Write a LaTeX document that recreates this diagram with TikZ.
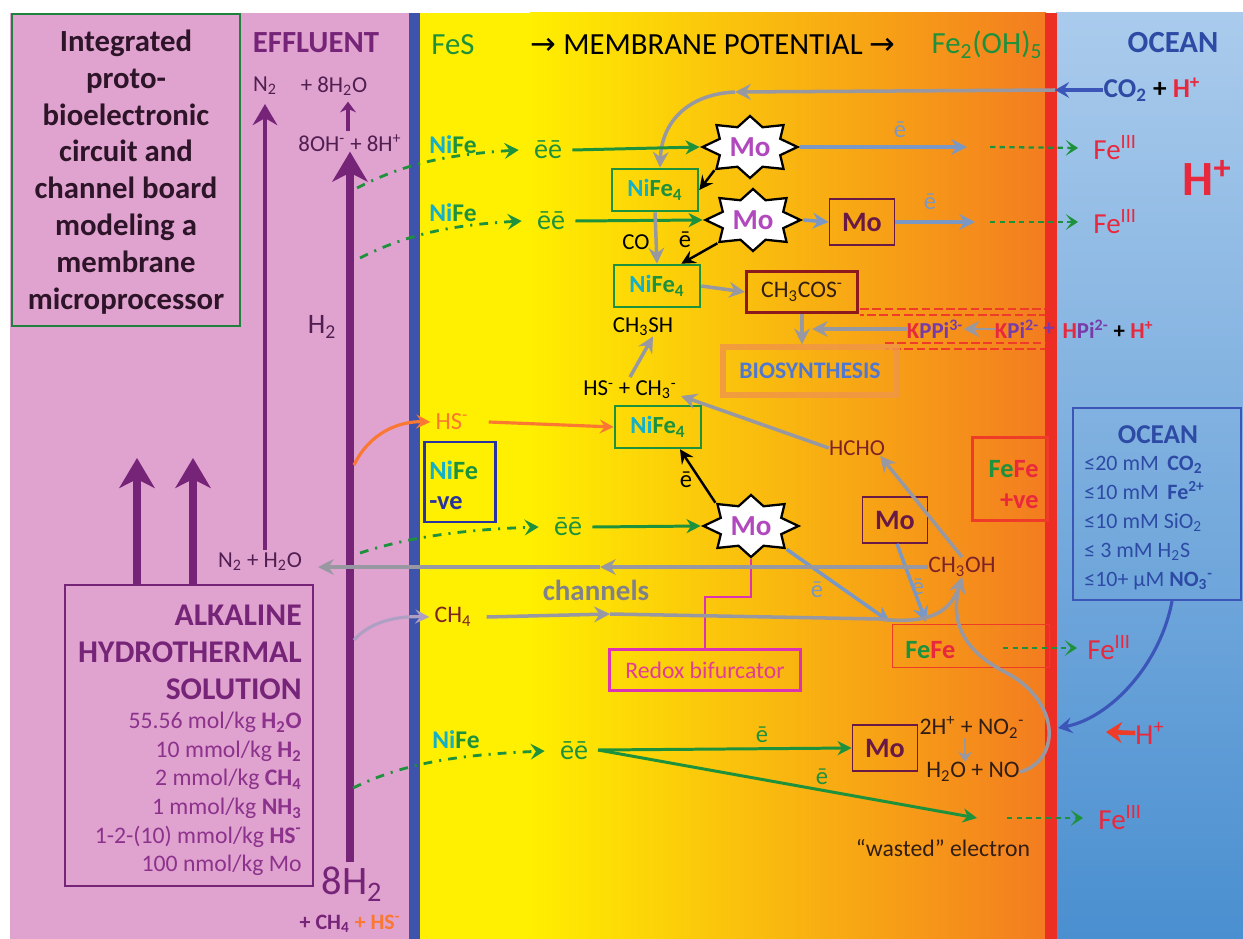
\documentclass[tikz,border=0pt]{standalone}
\usepackage{fontspec}
\setmainfont{Carlito}
\newfontfamily\arrowfont{DejaVu Sans}
\usetikzlibrary{arrows.meta,calc,shapes.geometric,positioning}

\definecolor{pinkbg}{RGB}{224,163,207}
\definecolor{yel}{RGB}{255,239,0}
\definecolor{orA}{RGB}{250,182,22}
\definecolor{orB}{RGB}{243,124,32}
\definecolor{oceanA}{RGB}{170,203,236}
\definecolor{oceanB}{RGB}{74,143,208}
\definecolor{membblue}{RGB}{62,84,172}
\definecolor{membred}{RGB}{236,46,36}
\definecolor{purp}{RGB}{118,36,120}
\definecolor{lightpurp}{RGB}{140,50,140}
\definecolor{darkpurp}{RGB}{80,30,80}
\definecolor{titlegrn}{RGB}{30,130,60}
\definecolor{titletxt}{RGB}{45,20,40}
\definecolor{fegreen}{RGB}{30,145,60}
\definecolor{nicyan}{RGB}{20,175,200}
\definecolor{arrgray}{RGB}{152,152,162}
\definecolor{arrblue}{RGB}{122,152,195}
\definecolor{mopink}{RGB}{178,72,190}
\definecolor{modark}{RGB}{105,25,70}
\definecolor{fered}{RGB}{232,40,60}
\definecolor{fered2}{RGB}{238,60,40}
\definecolor{ocblue}{RGB}{45,75,165}
\definecolor{ocblue2}{RGB}{60,85,185}
\definecolor{hsorange}{RGB}{250,120,50}
\definecolor{browntxt}{RGB}{125,35,40}
\definecolor{darktxt}{RGB}{50,30,20}
\definecolor{darkred}{RGB}{140,25,30}
\definecolor{bioorange}{RGB}{240,150,70}
\definecolor{bioblue}{RGB}{80,120,210}
\definecolor{pipurp}{RGB}{120,60,170}
\definecolor{magline}{RGB}{220,50,180}
\definecolor{magtxt}{RGB}{225,60,150}
\definecolor{negblue}{RGB}{40,50,160}
\definecolor{lilac}{RGB}{175,160,195}

\newcommand{\tsub}[1]{\textsubscript{#1}}
\newcommand{\tsup}[1]{\textsuperscript{#1}}
\newcommand{\fsz}[2]{\fontsize{#1}{#2}\selectfont}
\newcommand{\NiFe}{\textcolor{nicyan}{Ni}\textcolor{fegreen}{Fe}}
\newcommand{\NiFeFour}{\textcolor{nicyan}{Ni}\textcolor{fegreen}{Fe\tsub{4}}}
\newcommand{\mostar}[2]{%
  \begin{scope}[shift={(#2)}, xscale=1.53]
    \node[mostar] (#1) at (0,0) {};
  \end{scope}
  \node[motxt] (#1txt) at (#1) {Mo};}

\tikzset{
  chem/.style={inner sep=0pt, font=\fsz{13}{15}},
  hdr/.style={inner sep=0pt, font=\fsz{17.5}{20}},
  eetxt/.style={inner sep=0pt, text=fegreen, font=\fsz{16}{18}},
  etxt/.style={inner sep=0pt, font=\fsz{14}{16}},
  nifetxt/.style={inner sep=0pt, font=\bfseries\fsz{14.5}{16}},
  fethree/.style={inner sep=0pt, anchor=west, text=fered, font=\fsz{16.5}{18}},
  nifebox/.style={draw=fegreen, line width=1.5pt, minimum width=1.72cm, minimum height=0.84cm, inner sep=0pt, font=\bfseries\fsz{14}{16}},
  mobox/.style={draw=modark, line width=1pt, minimum width=1.3cm, minimum height=0.92cm, inner sep=0pt, text=modark, font=\bfseries\fsz{16}{18}},
  mostar/.style={star, star points=8, star point ratio=1.45, minimum size=1.24cm, inner sep=0pt, draw=black, line width=1.3pt, fill=white, transform shape},
  motxt/.style={inner sep=0pt, text=mopink, font=\bfseries\fsz{16.5}{18}},
  grnarrow/.style={fegreen, line width=1.7pt, -{Stealth[length=8pt,width=8pt,inset=2.5pt]}},
  dashdot/.style={fegreen, line width=1.6pt, dash pattern=on 5pt off 4pt on 1.2pt off 4pt, -{Stealth[length=8pt,width=9pt,inset=3pt]}},
  fedash/.style={fegreen, line width=1.3pt, dash pattern=on 3pt off 2.5pt, -{Stealth[length=7pt,width=9pt,inset=3.5pt]}},
  grayarrow/.style={arrgray, line width=2pt, -{Stealth[length=9pt,width=9pt,inset=3pt]}},
  bluearrow/.style={arrblue, line width=2pt, -{Stealth[length=9pt,width=9pt,inset=3pt]}},
  blkarrow/.style={black, line width=1.4pt, -{Stealth[length=8pt,width=8pt,inset=3pt]}},
  orarrow/.style={hsorange, line width=1.8pt, -{Stealth[length=8pt,width=8pt,inset=3pt]}},
  oceanarrow/.style={ocblue2, line width=1.8pt, -{Stealth[length=8pt,width=9pt,inset=3pt]}},
  redarrow/.style={fered2, line width=2.6pt, -{Stealth[length=9pt,width=12pt,inset=3pt]}},
  bigpurp/.style={purp, line width=4.2pt, -{Stealth[length=17pt,width=20pt,inset=5pt]}},
  reddash/.style={fered2, line width=1.4pt, dash pattern=on 5pt off 2pt},
}

\begin{document}
\begin{tikzpicture}[x=0.02cm, y=-0.02cm]
\useasboundingbox (0,0) rectangle (1243,939);
% zones
\fill[pinkbg] (10,13) rectangle (411,939);
\fill[yel] (419,13) rectangle (531,939);
\shade[left color=yel, middle color=orA, right color=orB] (530,13) rectangle (1046,939);
\shade[top color=oceanA, bottom color=oceanB] (1056,13) rectangle (1243,939);
\fill[membblue] (409,13) rectangle (420,939);
\fill[membred] (1045,13) rectangle (1057,939);

% title
\draw[titlegrn, line width=1.6pt] (12,14) rectangle (240,326);
\node[align=center, inner sep=0pt, text=titletxt, font=\bfseries\fsz{17.5}{21}] (title) at (126,172)
  {Integrated\\proto-\\bioelectronic\\circuit and\\channel board\\modeling a\\membrane\\microprocessor};

% effluent side
\node[hdr, text=purp, font=\bfseries\fsz{17.5}{20}] (effl) at (316,43) {EFFLUENT};
\node[chem, text=darkpurp] (ntwo) at (265,86) {N\tsub{2}};
\node[chem, text=darkpurp] (wat) at (334,86) {+ 8H\tsub{2}O};
\node[chem, text=darkpurp] (ohh) at (350,143) {8OH\tsup{-} + 8H\tsup{+}};
\draw[purp, line width=2.6pt, -{Stealth[length=6pt,width=9pt]}] ([shift={(-2,-3)}]ohh.north) -- ([shift={(14,6)}]wat.south);

\coordinate (hbot) at (350,862);
\draw[bigpurp] (hbot) -- (ohh.south -| hbot);
\node[chem, text=darkpurp, font=\fsz{16}{18}] (htwo) at (322,327) {H\tsub{2}};
\node[inner sep=0pt, text=purp, font=\fsz{23}{26}] (eighth) at (352,884) {8H\tsub{2}};
\node[inner sep=0pt, font=\bfseries\fsz{12.5}{14}] (feed) at (350,924) {\textcolor{purp}{+ CH\tsub{4}} \textcolor{hsorange}{+ HS\tsup{-}}};

\coordinate (nbot) at (265,550);
\draw[purp, line width=2.4pt, -{Stealth[length=12pt,width=14pt,inset=4pt]}] (nbot) -- ([yshift=-5pt]ntwo.south);

% alkaline solution
\draw[purp, line width=1pt] (65,585) rectangle (313,886);
\node[anchor=east, align=right, inner sep=0pt, text=purp, font=\bfseries\fsz{18}{21}] (alk) at (302,652) {ALKALINE\\HYDROTHERMAL\\SOLUTION};
\node[anchor=east, align=right, inner sep=0pt, text=lightpurp, font=\fsz{13.5}{16.3}] (alkvals) at (302,794)
  {55.56 mol/kg \textbf{H\tsub{2}O}\\10 mmol/kg \textbf{H\tsub{2}}\\2 mmol/kg \textbf{CH\tsub{4}}\\1 mmol/kg \textbf{NH\tsub{3}}\\1-2-(10) mmol/kg \textbf{HS\tsup{-}}\\100 nmol/kg Mo};
\coordinate (alkA) at (137,585);
\coordinate (alkB) at (193,585);
\draw[bigpurp] (alkA) -- ++(0,-127);
\draw[bigpurp] (alkB) -- ++(0,-127);

% headers
\node[hdr, text=fegreen] (fes) at (453,45) {FeS};
\node[hdr, text=black] (mp) at (713,45) {{\arrowfont →} MEMBRANE POTENTIAL {\arrowfont →}};
\node[hdr, text=fegreen] (feoh) at (987,45) {Fe\tsub{2}(OH)\tsub{5}};
\node[hdr, text=ocblue, font=\bfseries\fsz{17.5}{20}] (ocean) at (1173,43) {OCEAN};

% CO2 intake
\node[inner sep=0pt, font=\bfseries\fsz{15.5}{17}] (co2) at (1152,90) {\textcolor{ocblue}{CO\tsub{2}} + \textcolor{fered}{H\tsup{+}}};
\coordinate (redA) at (1055,90);
\coordinate (co2bend) at (735,92);
\draw[oceanarrow] (co2.west) -- (redA);

% NiFe4 boxes
\node[nifebox] (nfA) at (655,190) {\NiFeFour};
\node[nifebox] (nfB) at (657,286) {\NiFeFour};
\node[nifebox] (nfC) at (658,427) {\NiFeFour};
\draw[grayarrow] (redA) -- (co2bend);
\draw[grayarrow] (co2bend) .. controls (690,94) and (662,120) .. ([xshift=0.1cm]nfA.north);

% row 1
\node[nifetxt] (nifeA) at (453,145) {\NiFe};
\node[eetxt] (eeA) at (548,150) {ēē};
\draw[dashdot] (357,188) .. controls (400,166) and (440,155) .. ([xshift=-0.3cm]eeA.west);
\mostar{moA}{750,147}
\draw[grnarrow] ([xshift=0.2cm]eeA.east) -- (moA.west);
\coordinate (eA) at (967,147);
\draw[bluearrow] (moA.east) -- (eA);
\node[etxt, text=arrblue] (eAl) at (900,130) {ē};
\node[fethree] (feA) at (1093,148) {Fe\tsup{III}};
\coordinate (fdA) at (990,147);
\draw[fedash] (fdA) -- ([xshift=-0.3cm]feA.west);
\draw[blkarrow] (moA.south west) -- (nfA.east);

% row 2
\node[nifetxt] (nifeB) at (453,213) {\NiFe};
\node[eetxt] (eeB) at (551,221) {ēē};
\draw[dashdot] (360,258) .. controls (405,235) and (450,225) .. ([xshift=-0.3cm]eeB.west);
\mostar{moB}{753,220}
\draw[grnarrow] ([xshift=0.2cm]eeB.east) -- (moB.west);
\node[mobox] (moboxB) at (862,222) {Mo};
\draw[bluearrow] (moB.east) -- (moboxB.west);
\coordinate (eB) at (975,222);
\draw[bluearrow] (moboxB.east) -- (eB);
\node[etxt, text=arrblue] (eBl) at (930,202) {ē};
\node[fethree] (feB) at (1093,222) {Fe\tsup{III}};
\coordinate (fdB) at (990,222);
\draw[fedash] (fdB) -- ([xshift=-0.3cm]feB.west);
\node[inner sep=0pt, text=fered, font=\bfseries\fsz{28}{30}] (hbig) at (1207,178) {H\tsup{+}};

\draw[grayarrow] (nfA.south) -- (nfB.north);
\node[chem] (co) at (636,242) {CO};
\node[etxt] (eblk) at (685,240) {ē};
\draw[blkarrow] (moB.south west) -- ([xshift=-0.4cm]nfB.north east);

% acetyl thioester and biosynthesis
\node[draw=darkred, line width=1.8pt, minimum width=2.22cm, minimum height=0.82cm, inner sep=0pt, text=darktxt, font=\fsz{13.5}{15}] (acs) at (802,292) {CH\tsub{3}COS\tsup{-}};
\draw[grayarrow] (nfB.east) -- (acs.west);
\draw[reddash] (860,309) -- (1045,309);
\draw[reddash, dash phase=3pt] (860,315) -- (1045,315);
\draw[reddash] (885,343) -- (1045,343);
\draw[reddash, dash phase=3pt] (885,349) -- (1045,349);
\node[draw=bioorange, draw opacity=0.85, line width=3pt, minimum width=3.48cm, minimum height=0.96cm, inner sep=0pt, text=bioblue, font=\bfseries\fsz{13.5}{15}] (bio) at (810,371) {BIOSYNTHESIS};
\draw[grayarrow] (acs.south) -- (acs.south |- bio.north);
\node[inner sep=0pt, font=\bfseries\fsz{13}{14}] (kppi) at (935,329) {\textcolor{fered}{K}\textcolor{pipurp}{PPi\tsup{3-}}};
\node[inner sep=0pt, font=\bfseries\fsz{13}{14}] (kpi) at (1017,329) {\textcolor{fered}{K}\textcolor{pipurp}{Pi\tsup{2-}}};
\node[inner sep=0pt, text=pipurp, font=\bfseries\fsz{13}{14}] (plusk) at (1049,329) {+};
\node[inner sep=0pt, font=\bfseries\fsz{13}{14}] (hpi) at (1108,329) {\textcolor{fered}{H}\textcolor{pipurp}{Pi\tsup{2-}} + \textcolor{fered}{H\tsup{+}}};
\draw[grayarrow, line width=1.6pt] (kpi.west) -- (kppi.east);
\coordinate (bioin) at (812,329);
\draw[grayarrow] (kppi.west) -- (bioin);

% methyl thiol branch
\node[chem] (mesh) at (643,327) {CH\tsub{3}SH};
\node[chem] (hsme) at (630,390) {HS\tsup{-} + CH\tsub{3}\tsup{-}};
\draw[grayarrow] ([yshift=2pt]hsme.north) -- ([xshift=0.2cm]mesh.south);
\node[chem, text=browntxt] (hcho) at (857,448) {HCHO};
\draw[grayarrow] (hcho.west) -- ([shift={(4,6)}]hsme.east);
\node[chem, text=hsorange, font=\fsz{14}{16}] (hs) at (452,422) {HS\tsup{-}};
\draw[orarrow] ([xshift=0.4cm]hs.east) -- (nfC.west);
\coordinate (tapHS) at (354,465);
\draw[orarrow] (tapHS) .. controls (370,432) and (400,421) .. ([xshift=-0.1cm]hs.west);

\node[draw=negblue, line width=1.2pt, minimum width=1.42cm, minimum height=1.6cm, inner sep=0pt] (neg) at (460,482) {};
\node[anchor=west, inner sep=0pt, font=\bfseries\fsz{15}{16}] (negA) at (429,470) {\NiFe};
\node[anchor=west, inner sep=0pt, text=negblue, font=\bfseries\fsz{15}{16}] (negB) at (429,503) {-ve};

% row 3
\node[eetxt] (eeC) at (568,527) {ēē};
\draw[dashdot] (360,553) .. controls (400,540) and (450,530) .. ([xshift=-0.3cm]eeC.west);
\mostar{moC}{751,526}
\draw[grnarrow] ([xshift=0.2cm]eeC.east) -- (moC.west);
\draw[blkarrow] (moC.north west) -- ([xshift=0.44cm]nfC.south);
\node[etxt] (eC) at (686,480) {ē};

\node[draw=magline, line width=1.2pt, minimum width=3.82cm, minimum height=0.82cm, inner sep=0pt, text=magtxt, font=\fsz{13.5}{15}] (redox) at (705,670) {Redox bifurcator};
\coordinate (stepA) at (750,597);
\draw[magline, line width=1.5pt] (moC.south) -- (moC.south |- stepA) -| (redox.north);

\node[mobox] (moboxC) at (895,520) {Mo};
\coordinate (ffjoin) at (890,622);
\coordinate (ffjoinB) at (926,622);
\draw[bluearrow] (moC.south east) -- (ffjoin);
\node[etxt, text=arrblue] (eC2) at (817,590) {ē};
\draw[bluearrow] ([xshift=0.04cm]moboxC.south) -- (ffjoinB);
\node[etxt, text=arrblue] (eC3) at (918,587) {ē};

\node[draw=fered2, line width=1.8pt, minimum width=1.5cm, minimum height=1.66cm, inner sep=0pt] (fefepos) at (1010,479) {};
\node[anchor=east, inner sep=0pt, font=\bfseries\fsz{15}{16}] (fefeA) at (1039,469) {\textcolor{fegreen}{Fe}\textcolor{fered}{Fe}};
\node[anchor=east, inner sep=0pt, text=fered, font=\bfseries\fsz{15}{16}] (fefeB) at (1039,501) {+ve};

\node[chem, text=browntxt, font=\fsz{13.5}{15}] (meoh) at (962,567) {CH\tsub{3}OH};
\draw[grayarrow] (meoh.north) -- ([xshift=-0.1cm]hcho.south east);

\node[chem, text=darkpurp] (nwat) at (260,562) {N\tsub{2} + H\tsub{2}O};
\coordinate (nwatmid) at (600,567);
\coordinate (nwatin) at (318,567);
\draw[grayarrow] (meoh.west) -- (nwatmid);
\draw[grayarrow] (nwatmid) -- (nwatin);

\node[inner sep=0pt, text=arrgray!85!black, font=\bfseries\fsz{16.5}{18}] (chan) at (596,590) {channels};
\node[chem, text=browntxt, font=\fsz{13.5}{15}] (meth) at (453,617) {CH\tsub{4}};
\coordinate (tapCH) at (354,640);
\coordinate (methmid) at (610,614);
\draw[lilac, line width=1.8pt, -{Stealth[length=8pt,width=8pt,inset=3pt]}] (tapCH) .. controls (372,620) and (400,616) .. ([xshift=-0.1cm]meth.west);
\draw[grayarrow] ([xshift=0.3cm]meth.east) -- (methmid);
\draw[grayarrow] (methmid) -- (880,619) .. controls (925,624) and (950,615) .. (meoh.south);

% FeFe box
\node[draw=fered2, line width=1pt, minimum width=3.14cm, minimum height=0.86cm, inner sep=0pt] (fefe) at (971,646) {};
\node[anchor=west, inner sep=0pt, font=\bfseries\fsz{15}{16}] (fefetxt) at (905,650) {\textcolor{fegreen}{Fe}\textcolor{fered}{Fe}};
\node[fethree] (feC) at (1087,648) {Fe\tsup{III}};
\coordinate (fdC) at (1003,648);
\draw[fedash] (fdC) -- ([xshift=-0.2cm]feC.west);

% nitrite
\node[chem, text=darktxt, font=\fsz{13.5}{15}] (nitA) at (972,727) {2H\tsup{+} + NO\tsub{2}\tsup{-}};
\node[chem, text=darktxt, font=\fsz{13.5}{15}] (nitB) at (973,772) {H\tsub{2}O + NO};
\draw[arrgray, line width=1.6pt, -{Stealth[length=6pt,width=8pt,inset=2pt]}] ([xshift=-0.14cm]nitA.south) -- ([xshift=-0.16cm]nitB.north);
\draw[grayarrow] (nitB.east) .. controls (1062,760) and (1060,700) .. (1005,672) .. controls (962,650) and (950,620) .. (meoh.south);

% ocean
\node[draw=ocblue2, line width=1.3pt, minimum width=3.36cm, minimum height=3.84cm, inner sep=0pt] (ocbox) at (1157,504) {};
\node[inner sep=0pt, text=ocblue, font=\bfseries\fsz{15.5}{17}] (octitle) at (1158,435) {OCEAN};
\node[anchor=west, align=left, inner sep=0pt, text=ocblue, font=\fsz{12.5}{16.4}] (ocvals) at (1084,523)
  {≤20 mM\, \textbf{CO\tsub{2}}\\≤10 mM\, \textbf{Fe\tsup{2+}}\\≤10 mM SiO\tsub{2}\\≤ 3 mM H\tsub{2}S\\≤10+ µM \textbf{NO\tsub{3}\tsup{-}}};
\coordinate (redB) at (1058,728);
\draw[oceanarrow] ([xshift=0.3cm]ocbox.south) .. controls (1160,665) and (1110,718) .. (redB);
\node[inner sep=0pt, text=fered, font=\fsz{16.5}{18}] (hplusB) at (1150,733) {H\tsup{+}};
\coordinate (hpl) at (1106,732);
\draw[redarrow] (hplusB.west) -- (hpl);

% row 4
\node[nifetxt] (nifeD) at (456,740) {\NiFe};
\node[eetxt] (eeD) at (574,751) {ēē};
\draw[dashdot] (353,788) .. controls (400,765) and (450,755) .. ([xshift=-0.3cm]eeD.west);
\node[mobox] (moboxD) at (885,748) {Mo};
\coordinate (split) at (598,750);
\coordinate (waste) at (977,818);
\draw[grnarrow] (split) -- (moboxD.west);
\draw[grnarrow] (split) -- (waste);
\node[etxt, text=fegreen] (eD1) at (762,735) {ē};
\node[etxt, text=fegreen] (eD2) at (822,777) {ē};
\node[fethree] (feD) at (1098,818) {Fe\tsup{III}};
\coordinate (fdD) at (1007,818);
\draw[fedash] (fdD) -- ([xshift=-0.3cm]feD.west);
\node[chem, text=darktxt, font=\fsz{13.5}{15}] (wasted) at (943,848) {“wasted” electron};
\end{tikzpicture}
\end{document}
